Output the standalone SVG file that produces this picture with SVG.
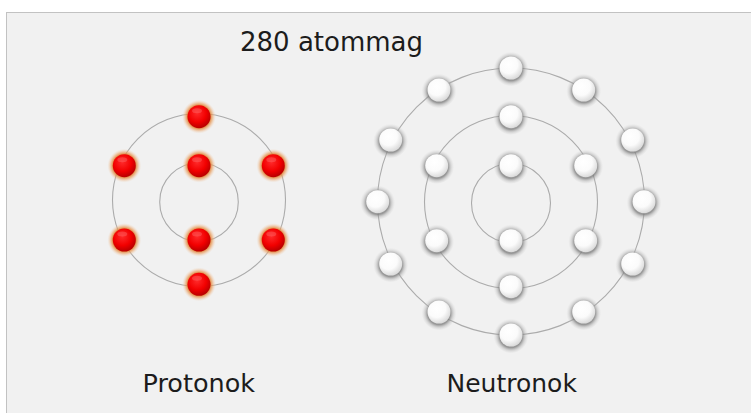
<svg xmlns="http://www.w3.org/2000/svg" xmlns:xlink="http://www.w3.org/1999/xlink" width="751" height="413" viewBox="0 0 751 413">
<style>
.orbit{fill:none;stroke:#ababab;stroke-width:1.1}
.lbl{font-family:"DejaVu Sans",sans-serif;fill:#1c1c1c}
</style>
<defs>
<radialGradient id="pglow" cx="0.5" cy="0.5" r="0.5">
<stop offset="0.68" stop-color="#e07a2a" stop-opacity="0.85"/>
<stop offset="0.82" stop-color="#eaa060" stop-opacity="0.5"/>
<stop offset="1" stop-color="#f1d8c0" stop-opacity="0"/>
</radialGradient>
<radialGradient id="pfill" cx="0.42" cy="0.35" r="0.65">
<stop offset="0" stop-color="#ff2a2a"/>
<stop offset="0.6" stop-color="#f20000"/>
<stop offset="1" stop-color="#b80000"/>
</radialGradient>
<radialGradient id="nglow" cx="0.5" cy="0.52" r="0.5">
<stop offset="0.66" stop-color="#7a7a7a" stop-opacity="0.75"/>
<stop offset="0.8" stop-color="#a0a0a0" stop-opacity="0.4"/>
<stop offset="1" stop-color="#d0d0d0" stop-opacity="0"/>
</radialGradient>
<radialGradient id="nfill" cx="0.4" cy="0.35" r="0.7">
<stop offset="0" stop-color="#ffffff"/>
<stop offset="0.55" stop-color="#fbfbfb"/>
<stop offset="1" stop-color="#d6d6d6"/>
</radialGradient>
<g id="p">
<circle r="17" fill="url(#pglow)"/>
<circle r="11.5" fill="url(#pfill)"/>
<ellipse cx="-2" cy="-6" rx="5" ry="2.5" fill="#ff8080" opacity="0.35"/>
</g>
<g id="n">
<circle r="17.5" cy="0.5" fill="url(#nglow)"/>
<circle r="11.5" fill="url(#nfill)"/>
</g>
</defs>
<rect x="0" y="0" width="751" height="413" fill="#ffffff"/>
<rect x="6.5" y="12.5" width="760" height="420" fill="#f1f1f1" stroke="#c2c2c2" stroke-width="1"/>
<text class="lbl" x="240" y="51" font-size="26">280 atommag</text>
<g id="orbits">
<circle class="orbit" cx="199" cy="202" r="39.3"/>
<circle class="orbit" cx="199" cy="200" r="86.5"/>
<circle class="orbit" cx="511" cy="203" r="39.5"/>
<circle class="orbit" cx="511" cy="202" r="86.5"/>
<circle class="orbit" cx="511" cy="201.5" r="133.5"/>
</g>
<g id="protons">
<g id="p1"><use xlink:href="#p" x="199" y="116.7"/></g>
<g id="p2"><use xlink:href="#p" x="124.3" y="165.7"/></g>
<g id="p3"><use xlink:href="#p" x="199" y="165.7"/></g>
<g id="p4"><use xlink:href="#p" x="273.3" y="165.7"/></g>
<g id="p5"><use xlink:href="#p" x="124.3" y="240"/></g>
<g id="p6"><use xlink:href="#p" x="199" y="240"/></g>
<g id="p7"><use xlink:href="#p" x="273.3" y="240"/></g>
<g id="p8"><use xlink:href="#p" x="199" y="284.3"/></g>
</g>
<g id="neutrons">
<g id="n1"><use xlink:href="#n" x="511" y="68"/></g>
<g id="n2"><use xlink:href="#n" x="439" y="90"/></g>
<g id="n3"><use xlink:href="#n" x="583.7" y="90"/></g>
<g id="n4"><use xlink:href="#n" x="390.7" y="140"/></g>
<g id="n5"><use xlink:href="#n" x="632.7" y="140"/></g>
<g id="n6"><use xlink:href="#n" x="377.7" y="201.7"/></g>
<g id="n7"><use xlink:href="#n" x="644" y="201.7"/></g>
<g id="n8"><use xlink:href="#n" x="390.7" y="264"/></g>
<g id="n9"><use xlink:href="#n" x="632.7" y="264"/></g>
<g id="n10"><use xlink:href="#n" x="439" y="312"/></g>
<g id="n11"><use xlink:href="#n" x="583.7" y="312"/></g>
<g id="n12"><use xlink:href="#n" x="511" y="335"/></g>
<g id="n13"><use xlink:href="#n" x="511" y="116.7"/></g>
<g id="n14"><use xlink:href="#n" x="436.7" y="165.7"/></g>
<g id="n15"><use xlink:href="#n" x="585.7" y="165.7"/></g>
<g id="n16"><use xlink:href="#n" x="436.7" y="240.7"/></g>
<g id="n17"><use xlink:href="#n" x="585.7" y="240.7"/></g>
<g id="n18"><use xlink:href="#n" x="511" y="286.7"/></g>
<g id="n19"><use xlink:href="#n" x="511" y="165.7"/></g>
<g id="n20"><use xlink:href="#n" x="511" y="240.7"/></g>
</g>
<text class="lbl" x="142.5" y="392" font-size="25.5">Protonok</text>
<text class="lbl" x="446.5" y="392" font-size="25">Neutronok</text>
</svg>
